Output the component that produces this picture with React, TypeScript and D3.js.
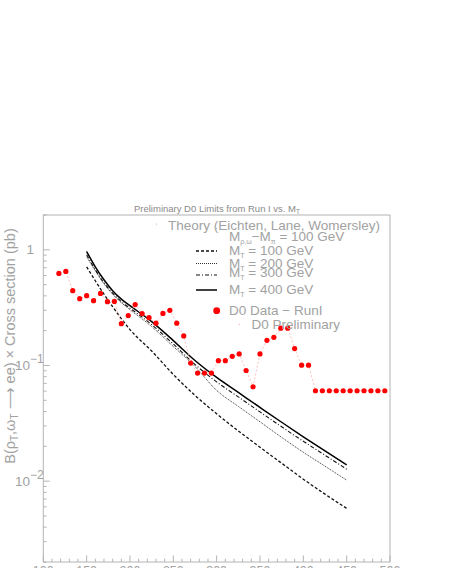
import React, { useEffect, useRef } from 'react';
import * as d3 from 'd3';

// D0 limit points (pb)
const dataMass = [118, 126, 134, 142, 150, 158, 166, 174, 182, 190, 198, 206, 214, 222, 230, 238,
  246, 254, 262, 270, 278, 286, 294, 302, 310, 318, 326, 334, 342, 350, 358, 366,
  374, 382, 390, 398, 406, 414, 422, 430, 438, 446, 454, 462, 470, 478, 486, 494];
const dataLimit = [0.625, 0.65, 0.443, 0.378, 0.401, 0.363, 0.42, 0.356, 0.358, 0.23, 0.27, 0.336,
  0.281, 0.259, 0.232, 0.282, 0.3, 0.232, 0.18, 0.105, 0.086, 0.086, 0.086, 0.11,
  0.11, 0.12, 0.126, 0.0905, 0.0655, 0.126, 0.165, 0.175, 0.21, 0.21, 0.14, 0.1006,
  0.1006, 0.0605, 0.0605, 0.0605, 0.0605, 0.0605, 0.0605, 0.0605, 0.0605, 0.0605, 0.0605, 0.0605];

// theory curves
const theoryMass = [150, 160, 170, 180, 190, 200, 225, 250, 275, 300, 325, 350, 375, 400, 425, 450];
const mt100 = [0.713, 0.54, 0.4134, 0.3226, 0.2542, 0.2043, 0.1334, 0.0836, 0.0551, 0.0382, 0.0272, 0.01964, 0.01429, 0.0104, 0.00772, 0.00582];
const mt200 = [0.87, 0.659, 0.509, 0.4134, 0.349, 0.304, 0.2169, 0.1458, 0.098, 0.0609, 0.0443, 0.0326, 0.0239, 0.01778, 0.01347, 0.0102];
const mt300 = [0.906, 0.672, 0.519, 0.422, 0.356, 0.313, 0.2257, 0.1532, 0.102, 0.0721, 0.0535, 0.0397, 0.0295, 0.0221, 0.01675, 0.01269];
const mt400 = [0.967, 0.713, 0.551, 0.443, 0.3744, 0.329, 0.2394, 0.1642, 0.1104, 0.0788, 0.0585, 0.0434, 0.0323, 0.0242, 0.01825, 0.01382];

const xMajorTicks = [100, 150, 200, 250, 300, 350, 400, 450, 500];
const yMajorTicks = [1, 0.1, 0.01];
const yTickLabels = [{ base: '1', exp: '' }, { base: '10', exp: '-1' }, { base: '10', exp: '-2' }];

const curves = [
  { label: '100', values: mt100, dash: '3,2', width: 1.3, color: '#111' },
  { label: '200', values: mt200, dash: '1,1', width: 1, color: '#333' },
  { label: '300', values: mt300, dash: '4,2,1,2', width: 1.1, color: '#111' },
  { label: '400', values: mt400, dash: null, width: 1.5, color: '#000' },
];

const W = 468;
const H = 568;
const FONT = '"Liberation Sans", Arial, sans-serif';
const GREY = '#a2a2a2';

const App = () => {
  const svgRef = useRef(null);

  useEffect(() => {
    const svg = d3.select(svgRef.current);
    svg.selectAll('*').remove();

    const left = 43.3, right = 390, top = 215, bottom = 562;
    const x = d3.scaleLinear().domain([100, 500]).range([left, right]);
    const y = d3.scaleLog().domain([0.002, 2]).range([bottom, top]);

    const g = svg.append('g');

    // frame
    g.append('rect')
      .attr('x', left).attr('y', top)
      .attr('width', right - left).attr('height', bottom - top)
      .attr('fill', 'none').attr('stroke', '#b4b4b4').attr('stroke-width', 1);

    // x ticks (inside)
    const xMinor = d3.range(100, 501, 10);
    g.selectAll('.xt').data(xMinor).enter().append('line')
      .attr('x1', d => x(d)).attr('x2', d => x(d))
      .attr('y1', bottom).attr('y2', d => bottom - (d % 50 === 0 ? 6.5 : 3.3))
      .attr('stroke', '#b4b4b4');
    g.selectAll('.xl').data(xMajorTicks).enter().append('text')
      .attr('x', d => x(d)).attr('y', 575)
      .attr('text-anchor', 'middle')
      .style('font-family', FONT).style('font-size', '12.5px')
      .attr('fill', GREY)
      .text(d => d);

    // y ticks (log, inside)
    const yMinor = [];
    [0.001, 0.01, 0.1, 1].forEach(dec => {
      for (let k = 1; k <= 9; k++) {
        const v = dec * k;
        if (v >= 0.002 && v <= 2.0001) yMinor.push(v);
      }
    });
    g.selectAll('.yt').data(yMinor).enter().append('line')
      .attr('x1', left)
      .attr('x2', d => left + (yMajorTicks.some(m => Math.abs(m - d) < 1e-9) ? 6.5 : 3.3))
      .attr('y1', d => y(d)).attr('y2', d => y(d))
      .attr('stroke', '#b4b4b4');

    yMajorTicks.forEach((v, i) => {
      const lab = yTickLabels[i];
      const t = g.append('text')
        .attr('x', lab.exp ? 15 : 26.5).attr('y', y(v) + 4.5)
        .style('font-family', FONT).style('font-size', '13.5px')
        .attr('fill', GREY);
      t.append('tspan').text(lab.base);
      if (lab.exp) {
        t.append('tspan').attr('dy', -7).style('font-size', '12px').text(lab.exp.replace('-', '\u2212'));
      }
    });

    // title
    const title = g.append('text')
      .attr('x', 217).attr('y', 211.5).attr('text-anchor', 'middle')
      .style('font-family', FONT).style('font-size', '9.5px')
      .attr('fill', '#8a8a8a');
    title.append('tspan').text('Preliminary D0 Limits from Run I vs. M');
    title.append('tspan').attr('dy', 2).style('font-size', '6.5px').text('T');

    // y label
    const yl = g.append('text')
      .attr('transform', 'translate(15,346) rotate(-90)')
      .attr('text-anchor', 'middle')
      .style('font-family', FONT).style('font-size', '14.5px')
      .attr('fill', GREY);
    yl.append('tspan').text('B(\u03C1');
    yl.append('tspan').attr('dy', 3).style('font-size', '10px').text('T');
    yl.append('tspan').attr('dy', -3).text(',\u03C9');
    yl.append('tspan').attr('dy', 3).style('font-size', '10px').text('T');
    yl.append('tspan').attr('dy', -3).text(' \u27F6 ee) \u00D7 Cross section (pb)');

    // theory curves
    const line = d3.line()
      .x((d) => x(d[0]))
      .y((d) => y(d[1]))
      .curve(d3.curveMonotoneX);

    curves.forEach(c => {
      g.append('path')
        .datum(theoryMass.map((m, i) => [m, c.values[i]]))
        .attr('d', line)
        .attr('fill', 'none')
        .attr('stroke', c.color)
        .attr('stroke-width', c.width)
        .attr('stroke-dasharray', c.dash);
    });

    // data: connecting line + points
    const pts = dataMass.map((m, i) => [m, dataLimit[i]]);
    g.append('path')
      .datum(pts)
      .attr('d', d3.line().x(d => x(d[0])).y(d => y(d[1])))
      .attr('fill', 'none')
      .attr('stroke', '#ffb0b0')
      .attr('stroke-width', 0.8)
      .attr('stroke-dasharray', '2,2');
    g.selectAll('.pt').data(pts).enter().append('circle')
      .attr('cx', d => x(d[0])).attr('cy', d => y(d[1]))
      .attr('r', 2.6).attr('fill', '#ff0000');

    // legend
    const lg = g.append('g').style('font-family', FONT).attr('fill', GREY);
    const lx0 = 196, lx1 = 217, tx = 229;
    const fs = '13.5px';

    lg.append('circle').attr('cx', 156.5).attr('cy', 224).attr('r', 0.6).attr('fill', '#aaa');
    lg.append('text').attr('x', 168).attr('y', 229.5).style('font-size', fs).text('Theory (Eichten, Lane, Womersley)');

    lg.append('circle').attr('cx', 216.5).attr('cy', 228.5).attr('r', 0.6).attr('fill', '#aaa');
    const t2 = lg.append('text').attr('x', tx).attr('y', 241).style('font-size', fs);
    t2.append('tspan').text('M');
    t2.append('tspan').attr('dy', 2.5).style('font-size', '7px').text('\u03C1,\u03C9');
    t2.append('tspan').attr('dy', -2.5).text('\u2212M');
    t2.append('tspan').attr('dy', 2.5).style('font-size', '7px').text('\u03C0');
    t2.append('tspan').attr('dy', -2.5).text(' = 100 GeV');

    const rowsY = [{ ly: 251, ty: 255 }, { ly: 263.5, ty: 268 }, { ly: 275, ty: 277 }, { ly: 290, ty: 294 }];
    curves.forEach((c, i) => {
      lg.append('line')
        .attr('x1', lx0).attr('x2', lx1)
        .attr('y1', rowsY[i].ly).attr('y2', rowsY[i].ly)
        .attr('stroke', c.color).attr('stroke-width', c.width)
        .attr('stroke-dasharray', c.dash);
      const t = lg.append('text').attr('x', tx).attr('y', rowsY[i].ty).style('font-size', fs);
      t.append('tspan').text('M');
      t.append('tspan').attr('dy', 2.5).style('font-size', '7px').text('T');
      t.append('tspan').attr('dy', -2.5).text(` = ${c.label} GeV`);
    });

    lg.append('circle').attr('cx', 216.7).attr('cy', 310.7).attr('r', 3.4).attr('fill', '#ff0000');
    lg.append('text').attr('x', tx).attr('y', 315).style('font-size', fs).text('D0 Data \u2212 RunI');
    lg.append('circle').attr('cx', 239.3).attr('cy', 324.3).attr('r', 0.6).attr('fill', '#ff9090');
    lg.append('text').attr('x', 251.5).attr('y', 328.5).style('font-size', fs).text('D0 Preliminary');
  }, []);

  return (
    <svg
      ref={svgRef}
      width={W}
      height={H}
      style={{ position: 'absolute', left: 0, top: 0, background: '#fff' }}
    />
  );
};

export default App;
